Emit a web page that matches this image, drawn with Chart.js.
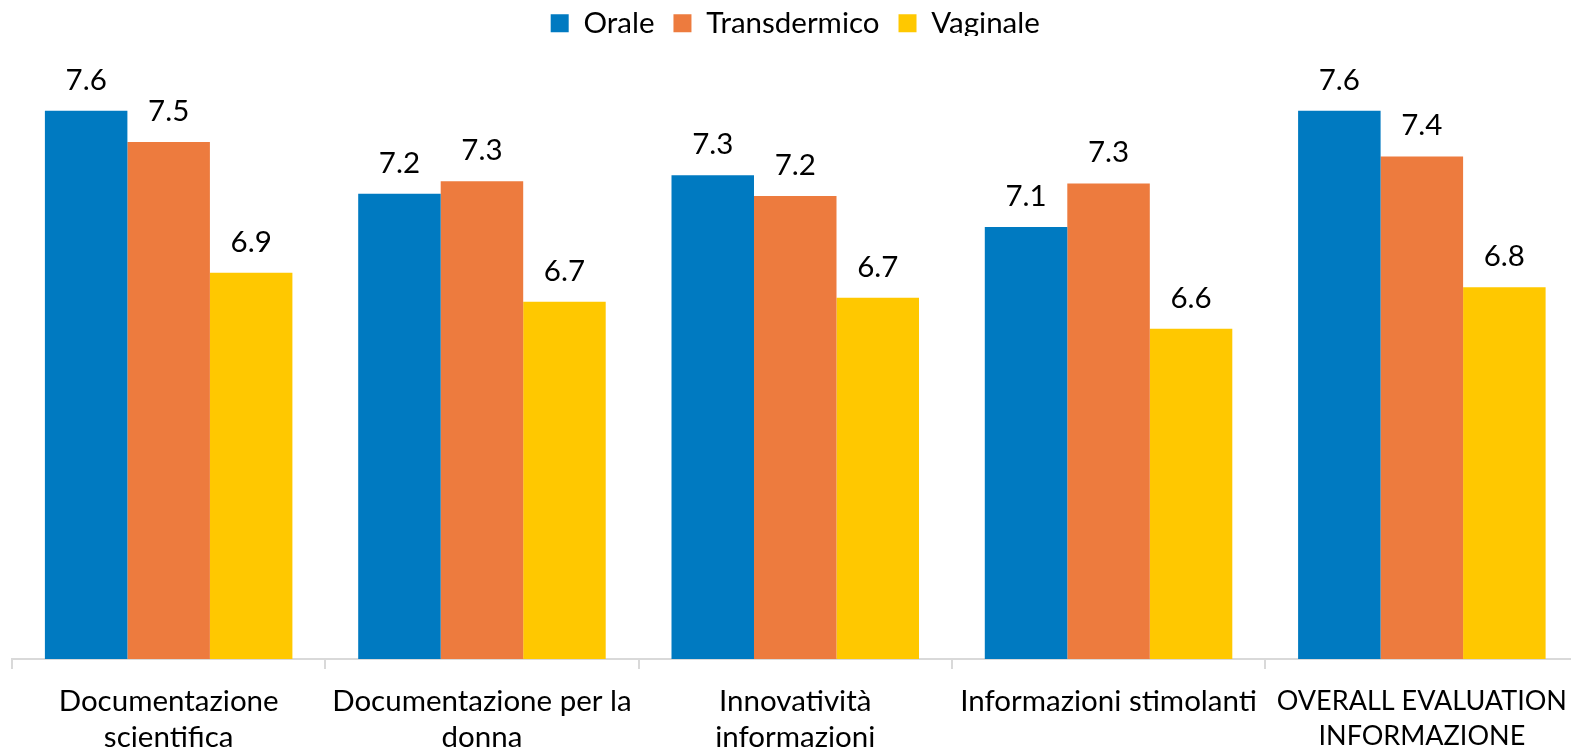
<!DOCTYPE html>
<html><head><meta charset="utf-8">
<script src="https://cdn.jsdelivr.net/npm/chart.js@4.4.0/dist/chart.umd.min.js"></script>
<style>html,body{margin:0;padding:0;background:#fff;overflow:hidden;width:1571px;height:751px;}#wrap{width:1579px;height:751px;}</style>
</head><body><div id="wrap"><canvas id="c" width="1579" height="751"></canvas></div>
<script>
const categories = [
  ["Documentazione", "scientifica"],
  ["Documentazione per la", "donna"],
  ["Innovatività", "informazioni"],
  ["Informazioni stimolanti"],
  ["OVERALL EVALUATION", "INFORMAZIONE"]
];
const seriesNames = ["Orale", "Transdermico", "Vaginale"];
const orale = [7.64, 7.24, 7.33, 7.08, 7.64];
const transdermico = [7.49, 7.30, 7.23, 7.29, 7.42];
const vaginale = [6.86, 6.72, 6.74, 6.59, 6.79];
const colors = ["#007AC1", "#ED7B3E", "#FFC800"];

const FONT = "Lato";
const FS = 29.5;

const dataLabels = {
  id: 'dataLabels',
  afterDatasetsDraw(chart) {
    const ctx = chart.ctx;
    ctx.save();
    ctx.font = FS + "px " + FONT;
    ctx.fillStyle = "#000";
    ctx.textAlign = "center";
    ctx.textBaseline = "alphabetic";
    chart.data.datasets.forEach((ds, i) => {
      chart.getDatasetMeta(i).data.forEach((el, j) => {
        ctx.fillText(ds.data[j].toFixed(1), el.x, el.y - 21);
      });
    });
    ctx.restore();
  }
};
const legendHeight = {
  id: 'legendHeight',
  beforeInit(chart) {
    const orig = chart.legend.fit;
    chart.legend.fit = function () { orig.call(this); this.height = 46.5; };
  }
};

new Chart(document.getElementById('c'), {
  type: 'bar',
  data: {
    labels: categories,
    datasets: [
      { label: seriesNames[0], data: orale, backgroundColor: colors[0] },
      { label: seriesNames[1], data: transdermico, backgroundColor: colors[1] },
      { label: seriesNames[2], data: vaginale, backgroundColor: colors[2] }
    ]
  },
  options: {
    responsive: false,
    animation: false,
    devicePixelRatio: 1,
    layout: { padding: { top: -10.5, left: 12, right: 0.5, bottom: 0 } },
    datasets: { bar: { categoryPercentage: 0.79, barPercentage: 1.0 } },
    plugins: {
      legend: {
        position: 'top',
        labels: { font: { family: FONT, size: FS }, color: '#000', boxWidth: 18, boxHeight: 18, padding: 19 }
      },
      tooltip: { enabled: false }
    },
    scales: {
      y: { display: false, min: 5, max: 8 },
      x: {
        afterFit(scale) { scale.paddingLeft = 0; scale.paddingRight = 0; scale.height = 92; },
        grid: { offset: true, drawOnChartArea: false, drawTicks: true, tickLength: 10, color: '#D9D9D9', lineWidth: 2 },
        border: { color: '#D9D9D9', width: 2 },
        ticks: {
          font: (ctx) => ({ family: FONT, size: ctx.index === 4 ? 27 : FS, lineHeight: ctx.index === 4 ? 1.3 : 1.2 }),
          color: '#000', maxRotation: 0, autoSkip: false, padding: 15
        }
      }
    }
  },
  plugins: [dataLabels, legendHeight]
});
</script></body></html>
